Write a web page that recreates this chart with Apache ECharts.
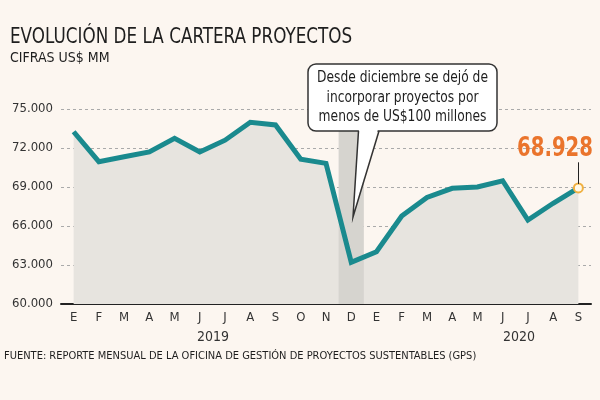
<!DOCTYPE html>
<html>
<head>
<meta charset="utf-8">
<script src="https://cdn.jsdelivr.net/npm/echarts@6/dist/echarts.min.js"></script>
<style>
  html, body { margin: 0; padding: 0; background: #fcf6f0; }
  #chart { width: 600px; height: 400px; }
</style>
</head>
<body>
<div id="chart"></div>
<script>
// meses ene 2019 - sep 2020
var meses = ['E','F','M','A','M','J','J','A','S','O','N','D','E','F','M','A','M','J','J','A','S'];
var cartera = [73250, 70950, 71330, 71700, 72750, 71700, 72600, 73980, 73770, 71130, 70820,
               63200, 64020, 66770, 68200, 68900, 69000, 69480, 66460, 67750, 68928];
var anios = ['2019', '2020'];
var yTicks = { min: 60000, max: 75000, step: 3000 };
var mesCorte = 11; // diciembre 2019
var ultimo = cartera[cartera.length - 1];

var fuente = "'Liberation Sans Narrow', 'DejaVu Sans Condensed', 'Liberation Sans', sans-serif";
var fmtMiles = function (v) {
  return String(v).replace(/\B(?=(\d{3})+(?!\d))/g, '.');
};

var chart = echarts.init(document.getElementById('chart'));

var puntos = cartera.map(function (v, i) {
  if (i === cartera.length - 1) {
    return {
      value: v,
      symbol: 'circle',
      symbolSize: 9,
      itemStyle: { color: '#fff8e8', borderColor: '#f0b040', borderWidth: 2 }
    };
  }
  return v;
});
// franja gris del mes de corte
var franja = meses.map(function (m, i) { return i === mesCorte ? yTicks.max : null; });

chart.setOption({
  backgroundColor: '#fcf6f0',
  animation: false,
  textStyle: { fontFamily: fuente },
  grid: { left: 61, right: 9, top: 109, bottom: 96 },
  xAxis: {
    type: 'category',
    data: meses,
    boundaryGap: true,
    axisLine: { lineStyle: { color: '#222', width: 2 } },
    axisTick: { show: false },
    axisLabel: { color: '#333', fontSize: 13, margin: 7, fontFamily: fuente }
  },
  yAxis: {
    type: 'value',
    min: yTicks.min,
    max: yTicks.max,
    interval: yTicks.step,
    axisLine: { show: false },
    axisTick: { show: false },
    axisLabel: { color: '#333', fontSize: 13, margin: 8, fontFamily: fuente, formatter: fmtMiles },
    splitLine: { lineStyle: { color: '#aaa', type: [3, 3], width: 1 } }
  },
  series: [{
    type: 'line',
    data: cartera,
    symbol: 'none',
    lineStyle: { width: 0, opacity: 0 },
    areaStyle: { color: '#e7e4df', opacity: 1, origin: 'start' },
    z: 1,
    silent: true
  }, {
    type: 'bar',
    data: franja,
    barWidth: '100%',
    itemStyle: { color: '#d6d4cf' },
    z: 2,
    silent: true
  }, {
    type: 'line',
    data: puntos,
    symbol: 'none',
    lineStyle: { color: '#1a8a8e', width: 5, join: 'miter' },
    z: 3,
    markLine: {
      silent: true,
      symbol: 'none',
      lineStyle: { color: '#222', width: 1, type: 'solid' },
      label: { show: false },
      data: [[{ coord: [20, ultimo + 300] }, { coord: [20, 70900] }]]
    }
  }],
  graphic: [
    { type: 'text', left: 10, top: 27, scaleX: 0.89, style: { text: 'EVOLUCIÓN DE LA CARTERA PROYECTOS', font: '21px ' + fuente, fill: '#1e1e1e' } },
    { type: 'text', left: 10, top: 51, style: { text: 'CIFRAS US$ MM', font: '14px ' + fuente, fill: '#1e1e1e' } },
    { type: 'text', x: 213, y: 337, style: { text: anios[0], font: '14px ' + fuente, fill: '#333', align: 'center', verticalAlign: 'middle' } },
    { type: 'text', x: 519, y: 337, style: { text: anios[1], font: '14px ' + fuente, fill: '#333', align: 'center', verticalAlign: 'middle' } },
    { type: 'text', left: 4, top: 351, style: { text: 'FUENTE: REPORTE MENSUAL DE LA OFICINA DE GESTIÓN DE PROYECTOS SUSTENTABLES (GPS)', font: '11px ' + fuente, fill: '#1e1e1e' } },
    // valor final
    { type: 'text', z: 12, x: 555, y: 149, scaleX: 0.84, style: { text: fmtMiles(ultimo), font: 'bold 26px ' + fuente, fill: '#ea742c', align: 'center', verticalAlign: 'middle' } },
    // globo de texto
    { type: 'rect', z: 10, shape: { x: 308, y: 64, width: 189, height: 67, r: 8 }, style: { fill: '#fff', stroke: '#333', lineWidth: 1.5 } },
    { type: 'polygon', z: 11, shape: { points: [[359, 129], [353.5, 214], [378, 129]] }, style: { fill: '#fff' } },
    { type: 'polyline', z: 11, shape: { points: [[358.5, 131], [353, 217], [379, 131]] }, style: { stroke: '#333', lineWidth: 1.5, fill: null } },
    { type: 'text', z: 12, x: 402.5, y: 98, scaleX: 0.91, style: { text: 'Desde diciembre se dejó de\nincorporar proyectos por\nmenos de US$100 millones', font: '15px ' + fuente, fill: '#1e1e1e', align: 'center', verticalAlign: 'middle', lineHeight: 19.5 } }
  ]
});
</script>
</body>
</html>
